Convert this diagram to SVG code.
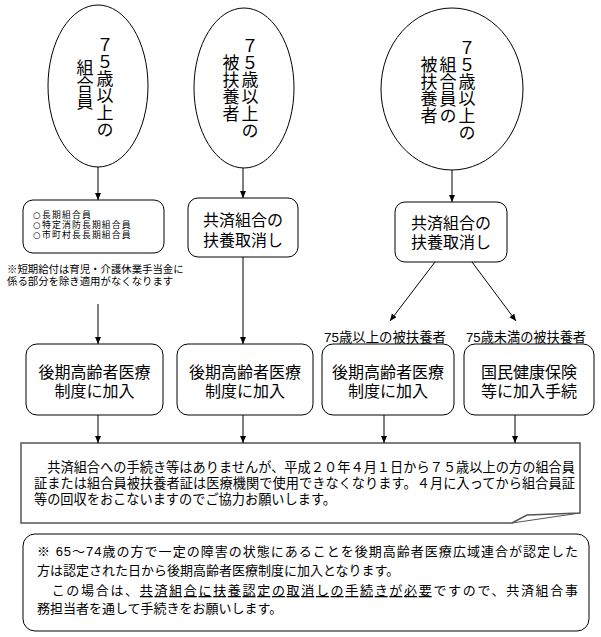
<svg xmlns="http://www.w3.org/2000/svg" width="601" height="637" viewBox="0 0 601 637">
<style>
text{font-family:"Liberation Sans","Noto Sans CJK JP",sans-serif;fill:#000}
.shape{fill:#fff;stroke:#000;stroke-width:1}
.vt{font-family:"Noto Sans CJK JP",sans-serif;writing-mode:vertical-rl;text-orientation:upright;font-size:17px}
.c16{font-size:16px;text-anchor:middle}
.s10{font-size:8.8px;letter-spacing:1.2px}
.cj{font-family:"DejaVu Sans",sans-serif}
.lbl{font-size:13.5px;text-anchor:middle}
.body{font-size:13.2px}
.con{stroke:#000;stroke-width:1;fill:none;marker-end:url(#ah)}
</style>
<defs>
<marker id="ah" markerUnits="userSpaceOnUse" markerWidth="8" markerHeight="8" refX="7" refY="3" orient="auto">
<path d="M0,0 L7,3 L0,6 Z" fill="#000"/>
</marker>
</defs>
<rect width="601" height="637" fill="#fff"/>

<g id="e1">
<ellipse class="shape" cx="98" cy="86" rx="50" ry="81"/>
<text class="vt" x="105" y="87" text-anchor="middle">７５歳以上の</text>
<text class="vt" x="85" y="85" text-anchor="middle">組合員</text>
</g>
<g id="e2">
<ellipse class="shape" cx="244" cy="88" rx="50" ry="80"/>
<text class="vt" x="250" y="88" text-anchor="middle">７５歳以上の</text>
<text class="vt" x="231" y="88" text-anchor="middle">被扶養者</text>
</g>
<g id="e3">
<ellipse class="shape" cx="452" cy="89" rx="71" ry="81"/>
<text class="vt" x="467" y="90" text-anchor="middle">７５歳以上の</text>
<text class="vt" x="448" y="90" text-anchor="middle">組合員の</text>
<text class="vt" x="429" y="90" text-anchor="middle">被扶養者</text>
</g>

<g id="boxA">
<rect class="shape" x="23" y="200" width="141" height="53" rx="10"/>
<text class="s10" x="33" y="217.5"><tspan class="cj">○</tspan>長期組合員</text>
<text class="s10" x="33" y="227.9"><tspan class="cj">○</tspan>特定消防長期組合員</text>
<text class="s10" x="33" y="238.3"><tspan class="cj">○</tspan>市町村長長期組合員</text>
</g>
<g id="noteA">
<text font-size="10.4" x="7" y="273">※短期給付は育児・介護休業手当金に</text>
<text font-size="10.4" x="7" y="285">係る部分を除き適用がなくなります</text>
</g>
<g id="boxB">
<rect class="shape" x="188" y="198" width="110" height="59" rx="10"/>
<text class="c16" x="243" y="226">共済組合の</text>
<text class="c16" x="243" y="246">扶養取消し</text>
</g>
<g id="boxC">
<rect class="shape" x="395" y="202" width="112" height="60" rx="10"/>
<text class="c16" x="451" y="229">共済組合の</text>
<text class="c16" x="451" y="248">扶養取消し</text>
</g>

<g id="labels">
<text class="lbl" x="385" y="342" textLength="122" lengthAdjust="spacingAndGlyphs">75歳以上の被扶養者</text>
<text class="lbl" x="526" y="342" textLength="120" lengthAdjust="spacingAndGlyphs">75歳未満の被扶養者</text>
</g>

<g id="boxD">
<rect class="shape" x="26" y="344" width="137" height="71" rx="11"/>
<text class="c16" x="94.5" y="378">後期高齢者医療</text>
<text class="c16" x="94.5" y="397">制度に加入</text>
</g>
<g id="boxE">
<rect class="shape" x="177" y="344" width="136" height="71" rx="11"/>
<text class="c16" x="245" y="378">後期高齢者医療</text>
<text class="c16" x="245" y="397">制度に加入</text>
</g>
<g id="boxF">
<rect class="shape" x="322" y="344" width="132" height="71" rx="11"/>
<text class="c16" x="388" y="378">後期高齢者医療</text>
<text class="c16" x="388" y="397">制度に加入</text>
</g>
<g id="boxG">
<rect class="shape" x="464" y="344" width="130" height="71" rx="11"/>
<text class="c16" x="529" y="378">国民健康保険</text>
<text class="c16" x="529" y="397">等に加入手続</text>
</g>

<g id="note">
<path d="M21,443 H580 V513 L527,515 L512,523 H21 Z" fill="#fff" stroke="#555" stroke-width="1.5"/>
<path d="M580,513 L512,523" fill="none" stroke="#555" stroke-width="1"/>
<text class="body" x="34" y="471.5" textLength="541" lengthAdjust="spacing">　共済組合への手続き等はありませんが、平成２０年４月１日から７５歳以上の方の組合員</text>
<text class="body" x="34" y="487.5" textLength="541" lengthAdjust="spacing">証または組合員被扶養者証は医療機関で使用できなくなります。４月に入ってから組合員証</text>
<text class="body" x="34" y="503.5">等の回収をおこないますのでご協力お願いします。</text>
</g>

<g id="bottom">
<rect class="shape" x="23" y="534" width="566" height="97" rx="12"/>
<text font-size="13" x="37" y="556" textLength="541" lengthAdjust="spacing">※ 65～74歳の方で一定の障害の状態にあることを後期高齢者医療広域連合が認定した</text>
<text font-size="13" x="37" y="575">方は認定された日から後期高齢者医療制度に加入となります。</text>
<text font-size="13" x="37" y="595" textLength="541" lengthAdjust="spacing">　この場合は、<tspan text-decoration="underline">共済組合に扶養認定の取消しの手続きが必要</tspan>ですので、共済組合事</text>
<text font-size="13" x="37" y="613">務担当者を通して手続きをお願いします。</text>
</g>

<g id="connectors">
<line class="con" x1="98" y1="167" x2="98" y2="200"/>
<line class="con" x1="243" y1="168" x2="243" y2="198"/>
<line class="con" x1="452" y1="170" x2="452" y2="202"/>
<line class="con" x1="98" y1="304" x2="98" y2="344"/>
<line class="con" x1="243" y1="257" x2="243" y2="344"/>
<line class="con" x1="435" y1="262" x2="390" y2="321"/>
<line class="con" x1="472" y1="262" x2="516" y2="321"/>
<line class="con" x1="98" y1="415" x2="98" y2="443"/>
<line class="con" x1="243" y1="415" x2="243" y2="443"/>
<line class="con" x1="384" y1="415" x2="384" y2="443"/>
<line class="con" x1="515" y1="415" x2="515" y2="443"/>
</g>
</svg>
